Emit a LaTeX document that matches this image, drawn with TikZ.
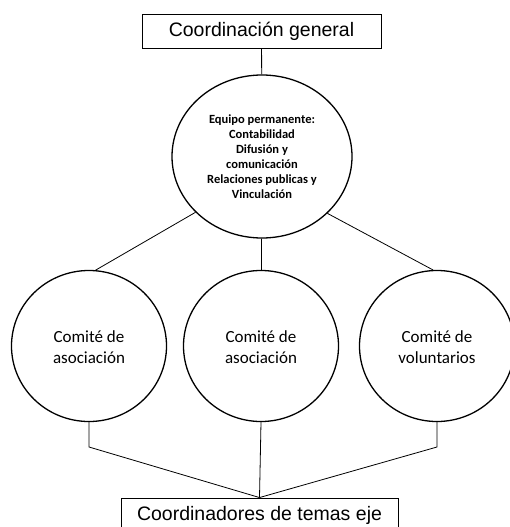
\documentclass[tikz,border=0pt]{standalone}
\usepackage{fontspec}
\setmainfont{Liberation Sans}
\newfontfamily\calfont{Carlito}
\usetikzlibrary{shapes.geometric}
\begin{document}
\begin{tikzpicture}[x=1pt,y=-1pt,
  box/.style={draw,line width=0.9pt,inner sep=0pt,font=\fontsize{19.5}{23}\selectfont},
  oval/.style={draw,ellipse,line width=1.3pt,inner sep=0pt},
  ovtext/.style={font=\calfont\fontsize{17}{21}\selectfont,align=center},
  link/.style={line width=0.8pt}]
\clip (0,0) rectangle (510,527);
\node[box,minimum width=239pt,minimum height=34pt] (top) at (261.5,31) {Coordinación general};
\node[oval,minimum width=180pt,minimum height=163pt] (ell) at (262,156.5) {};
\node[font=\calfont\bfseries\fontsize{12.5}{15}\selectfont,align=center] (elltext) at (262,157)
  {Equipo permanente:\\Contabilidad\\Difusión y\\comunicación\\Relaciones publicas y\\Vinculación};
\node[oval,minimum width=155pt,minimum height=151pt] (c1) at (89,346) {};
\node[oval,minimum width=155pt,minimum height=151pt] (c2) at (261,346) {};
\node[oval,minimum width=155pt,minimum height=151pt] (c3) at (437,346) {};
\node[ovtext] (t1) at (89,347) {Comité de\\asociación};
\node[ovtext] (t2) at (261,347) {Comité de\\asociación};
\node[ovtext] (t3) at (437,347) {Comité de\\voluntarios};
\node[box,minimum width=277pt,minimum height=34pt] (bot) at (259.5,515) {Coordinadores de temas eje};
\coordinate (k1) at (89,447);
\coordinate (k3) at (437,447);
\draw[link] (top) -- (ell);
\draw[link] (ell.220) -- (c1.85);
\draw[link] (ell) -- (c2);
\draw[link] (ell.319) -- (c3.93);
\draw[link] (c1.south) -- (k1) -- (bot.north);
\draw[link] (c2.south) -- (bot.north);
\draw[link] (c3.south) -- (k3) -- (bot.north);
\end{tikzpicture}
\end{document}
